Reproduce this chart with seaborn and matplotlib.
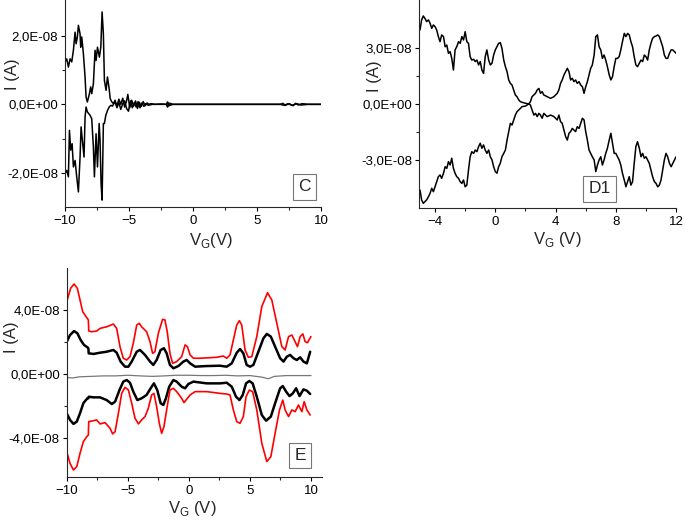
import matplotlib
matplotlib.use("Agg")
import matplotlib.pyplot as plt
import matplotlib.ticker as mticker
import seaborn as sns

# values in units of 1E-08 A, gate voltage in V

# panel C
vc_up = [-10.0, -9.87, -9.74, -9.61, -9.48, -9.35, -9.22, -9.14, -9.04, -8.96, -8.83, -8.78, -8.70,
         -8.57, -8.44, -8.36, -8.26, -8.10, -8.00, -7.92, -7.79, -7.66, -7.58, -7.47, -7.32, -7.21,
         -7.11, -7.01, -6.93, -6.80, -6.69, -6.56, -6.48, -6.35, -6.22, -6.1, -5.95, -5.8, -5.65,
         -5.5, -5.35, -5.2, -5.1, -4.95, -4.8, -4.65, -4.5, -4.35, -4.2, -4.05, -3.9, -3.75, -3.6,
         -3.45, -3.3, -3.0, -2.5, -2.1, -2.0, -1.9, -1.8, -1.6, -1.0, 0, 2, 4, 6, 6.8, 7.0, 7.2,
         7.5, 7.8, 8.0, 8.2, 8.5, 9, 10]
ic_up = [1.24, 1.33, 1.09, 1.33, 1.24, 1.58, 2.11, 1.77, 1.97, 2.31, 2.06, 1.67, 1.97,
         1.48, 0.80, 0.21, 0.07, 0.31, 0.51, 0.31, 0.60, 1.58, 1.28, 1.67, 1.38, 1.67,
         2.70, 2.06, 0.70, 0.41, 0.80, 0.46, 0.17, 0.07, 0.02, 0.12, -0.05, 0.15, 0.0,
         0.18, -0.08, 0.1, 0.29, -0.1, 0.12, -0.05, 0.1, -0.12, 0.06, -0.06, 0.08, -0.04, 0.04,
         0.0, 0.02, 0.0, 0.01, 0.0, 0.07, -0.05, 0.03, 0.0, 0.0, 0.0, 0.0, 0.0, 0.0, 0.0, 0.03, -0.03,
         0.02, -0.04, 0.03, -0.02, 0.02, 0.0, 0.0]
vc_dn = [-10.0, -9.87, -9.74, -9.66, -9.56, -9.45, -9.35, -9.22, -9.09, -8.96, -8.83, -8.75, -8.65,
         -8.52, -8.44, -8.36, -8.26, -8.05, -7.92, -7.79, -7.71, -7.58, -7.47, -7.34, -7.27, -7.19,
         -7.11, -7.01, -6.93, -6.82, -6.69, -6.56, -6.43, -6.3, -6.1, -5.95, -5.8, -5.65, -5.5,
         -5.35, -5.2, -5.05, -4.9, -4.75, -4.6, -4.45, -4.3, -4.15, -4.0, -3.85, -3.7, -3.5, -3.2,
         -2.5, -2.1, -2.0, -1.9, -1.8, -1.6, 0, 6.8, 7.1, 7.4, 7.7, 8.1, 8.4, 9, 10]
ic_dn = [-2.02, -1.93, -2.12, -0.76, -1.34, -1.15, -1.83, -1.64, -2.12, -2.56, -1.54, -0.66, -1.05,
         -1.54, -0.37, -0.08, -0.22, -0.32, -0.42, -1.25, -2.12, -0.86, -1.83, -0.56, -1.05, -2.32,
         -2.80, -0.56, -0.56, -0.32, -0.18, -0.08, -0.03, -0.05, 0.08, -0.1, 0.05, -0.15, 0.02,
         0.1, -0.12, -0.2, 0.1, -0.1, 0.05, -0.08, 0.08, -0.1, 0.04, -0.06, 0.02, -0.03, 0.0,
         0.0, 0.0, -0.08, 0.04, -0.03, 0.0, 0.0, 0.0, -0.03, 0.02, -0.03, 0.02, -0.02, 0.0, 0.0]

# panel D1
vd = [-5.00, -4.89, -4.78, -4.67, -4.56, -4.44, -4.33, -4.22, -4.11, -4.00, -3.89, -3.78, -3.67,
      -3.56, -3.44, -3.33, -3.22, -3.11, -3.00, -2.89, -2.78, -2.67, -2.56, -2.44, -2.33, -2.22,
      -2.11, -2.00, -1.89, -1.78, -1.67, -1.56, -1.44, -1.33, -1.22, -1.11, -1.00, -0.89, -0.78,
      -0.67, -0.56, -0.44, -0.33, -0.22, -0.11, 0.00, 0.11, 0.22, 0.33, 0.44, 0.56, 0.67, 0.78,
      0.89, 1.00, 1.11, 1.22, 1.33, 1.44, 1.56, 1.67, 1.78, 2.00, 2.22, 2.33, 2.44, 2.56, 2.67,
      2.78, 2.89, 3.00, 3.11, 3.22, 3.44, 3.67, 3.89, 4.11, 4.22, 4.33, 4.44, 4.56, 4.67, 4.78,
      4.89, 5.00, 5.11, 5.22, 5.33, 5.44, 5.56, 5.67, 5.78, 5.89, 6.00, 6.11, 6.22, 6.33, 6.44,
      6.56, 6.67, 6.78, 6.89, 7.00, 7.11, 7.22, 7.33, 7.44, 7.56, 7.67, 7.78, 7.89, 8.00, 8.11,
      8.22, 8.33, 8.44, 8.56, 8.67, 8.78, 8.89, 9.00, 9.11, 9.22, 9.33, 9.44, 9.56, 9.67, 9.78,
      9.89, 10.00, 10.11, 10.22, 10.33, 10.44, 10.56, 10.67, 10.78, 10.89, 11.00, 11.11, 11.22,
      11.33, 11.44, 11.56, 11.67, 11.78, 11.89, 12.00]
id_up = [3.94, 4.48, 4.69, 4.56, 4.39, 4.48, 4.30, 4.03, 4.21, 4.12, 3.94, 3.59, 3.32,
         3.68, 3.59, 3.05, 3.14, 2.70, 2.79, 2.43, 1.81, 2.88, 3.05, 3.32, 3.23, 3.59,
         3.41, 3.85, 3.32, 3.23, 2.52, 2.34, 2.38, 2.26, 2.34, 2.08, 2.26, 1.81, 1.63,
         2.52, 2.88, 2.34, 2.08, 2.17, 2.61, 2.88, 3.05, 3.23, 3.27, 2.97, 2.34, 1.99, 1.72,
         1.28, 1.10, 1.01, 0.75, 0.48, 0.39, 0.21, 0.12, 0.09, 0.04, 0.0, 0.12, 0.39, 0.48, 0.57,
         0.75, 0.83, 0.57, 0.66, 0.48, 0.39, 0.30, 0.39, 0.57, 0.75, 1.10, 1.28, 1.55, 1.72, 1.90,
         1.72, 1.28, 1.37, 1.19, 1.28, 1.10, 1.19, 1.01, 0.92, 0.57, 0.92, 1.19, 1.55, 1.90, 2.08,
         2.61, 3.59, 3.68, 3.05, 2.88, 2.43, 2.61, 2.34, 1.99, 1.55, 1.28, 1.46, 1.99, 2.43, 2.43,
         2.52, 2.88, 3.32, 3.76, 3.59, 3.76, 3.68, 3.32, 3.05, 2.52, 2.08, 1.99, 2.17, 2.34, 2.26,
         2.61, 2.52, 2.34, 2.88, 3.23, 3.50, 3.59, 3.62, 3.68, 3.59, 3.32, 3.05, 2.61,
         2.43, 2.43, 2.70, 2.88, 2.88, 2.79, 2.70]
id_dn = [-4.58, -5.11, -5.29, -5.20, -5.11, -4.94, -4.76, -4.49, -4.67, -4.41, -4.14, -3.87, -3.78,
         -3.96, -3.69, -3.34, -3.43, -3.07, -3.25, -2.89, -3.43, -3.69, -3.87, -3.96, -4.14, -4.23,
         -4.05, -4.41, -4.32, -3.52, -2.81, -2.54, -2.63, -2.45, -2.54, -2.27, -2.09, -2.36, -2.18,
         -2.45, -2.63, -2.45, -2.81, -2.98, -3.34, -3.60, -3.69, -3.34, -3.16, -2.81, -2.63, -2.45, -1.92,
         -1.47, -1.03, -1.12, -0.85, -0.59, -0.41, -0.32, -0.23, -0.14, -0.11, 0.0, -0.05, -0.32, -0.59, -0.50,
         -0.67, -0.50, -0.59, -0.76, -0.50, -0.67, -0.59, -0.67, -0.85, -0.59, -0.94, -1.03, -1.39, -1.74, -1.92,
         -1.56, -1.47, -1.30, -1.39, -1.47, -1.21, -1.30, -1.03, -0.76, -0.85, -1.47, -1.92, -2.45, -2.63, -2.81,
         -2.98, -3.60, -3.25, -2.98, -2.81, -3.25, -2.98, -2.63, -2.36, -1.92, -1.56, -2.09, -2.63, -2.63, -2.81,
         -2.98, -3.25, -3.69, -4.05, -4.41, -4.14, -3.87, -4.32, -4.14, -3.16, -2.27, -2.01, -2.36, -2.81, -2.63,
         -2.89, -2.81, -2.98, -3.16, -3.52, -3.87, -4.14, -4.23, -4.41, -4.32, -4.05, -3.52, -2.98,
         -2.63, -2.81, -3.16, -3.34, -3.16, -2.98, -2.81]

# panel E
ve_red_up = [-10.0, -9.68, -9.40, -9.13, -8.91, -8.69, -8.42, -8.23, -8.20, -7.96, -7.55, -7.27, -6.73,
             -6.18, -5.91, -5.64, -5.37, -5.09, -4.82, -4.55, -4.27, -4.06, -3.87, -3.46, -3.18, -2.97,
             -2.78, -2.50, -2.15, -1.96, -1.77, -1.55, -1.33, -1.00, -0.59, -0.31, -0.12, 0.10, 0.37,
             0.92, 2.28, 2.82, 3.10, 3.37, 3.64, 3.92, 4.13, 4.33, 4.60, 4.87, 5.15, 5.56, 5.97, 6.44,
             6.79, 7.20, 7.61, 7.88, 8.16, 8.43, 8.70, 8.89, 9.11, 9.33, 9.52, 9.71, 9.99]
ie_red_up = [4.55, 5.39, 5.66, 5.39, 4.65, 3.92, 3.61, 3.40, 2.71, 2.66, 2.70, 2.87, 2.97,
             3.14, 2.87, 1.72, 0.99, 0.88, 1.09, 1.93, 3.08, 3.19, 2.97, 2.66, 2.03, 1.30,
             1.40, 2.56, 3.44, 3.40, 2.66, 1.30, 0.67, 0.78, 1.09, 1.83, 1.72, 1.20, 0.99,
             0.99, 1.05, 1.13, 0.99, 1.20, 2.14, 3.08, 3.35, 3.08, 1.51, 1.05, 1.09, 2.35, 4.24, 5.11,
             4.65, 3.19, 1.72, 1.51, 2.35, 2.45, 2.03, 1.72, 2.35, 2.52, 2.03, 1.97, 2.35]
ve_red_dn = [-10.0, -9.73, -9.45, -9.18, -8.91, -8.64, -8.36, -8.23, -8.20, -7.82, -7.55, -7.27, -6.86,
             -6.45, -6.24, -6.04, -5.77, -5.50, -5.23, -4.95, -4.68, -4.41, -4.13, -3.87, -3.59, -3.32,
             -3.05, -2.86, -2.64, -2.42, -2.23, -2.04, -1.82, -1.55, -1.27, -1.00, -0.59, -0.40, -0.12,
             0.10, 0.51, 1.46, 2.55, 3.10, 3.37, 3.64, 3.92, 4.19, 4.46, 4.68, 4.95, 5.22, 5.56, 5.97,
             6.38, 6.71, 7.06, 7.42, 7.69, 7.88, 8.16, 8.43, 8.70, 8.97, 9.25, 9.44, 9.66, 9.93]
ie_red_dn = [-4.89, -5.62, -6.04, -5.83, -4.99, -4.26, -3.94, -3.84, -3.00, -2.94, -2.89, -3.14, -3.06,
             -3.42, -3.77, -3.63, -2.47, -1.22, -0.84, -1.01, -1.84, -2.78, -3.14, -2.89, -2.68, -2.16,
             -1.32, -1.22, -2.05, -3.10, -3.73, -3.31, -2.26, -1.01, -0.90, -1.11, -1.53, -1.80, -1.53,
             -1.32, -1.11, -1.11, -1.22, -1.26, -1.32, -2.26, -3.00, -3.10, -2.68, -1.43, -1.01, -1.11, -2.26, -4.36,
             -5.51, -5.20, -3.73, -2.26, -1.64, -2.26, -2.68, -2.26, -2.37, -1.95, -2.37, -1.74, -2.26, -2.58]
ve_blk_up = [-10.0, -9.73, -9.40, -9.13, -8.86, -8.59, -8.31, -8.23, -8.20, -7.82, -7.27, -6.73, -6.18,
             -5.91, -5.59, -5.23, -4.95, -4.68, -4.27, -4.00, -3.59, -3.18, -2.91, -2.64, -2.31, -2.04,
             -1.82, -1.55, -1.27, -0.86, -0.45, -0.18, 0.10, 0.51, 1.46, 2.55, 3.10, 3.51, 3.92, 4.19,
             4.46, 4.73, 5.01, 5.28, 5.69, 6.10, 6.38, 6.71, 7.06, 7.47, 7.75, 8.02, 8.29, 8.57, 8.84,
             9.11, 9.38, 9.66, 9.93]
ie_blk_up = [2.03, 2.45, 2.70, 2.56, 2.14, 1.83, 1.68, 1.62, 1.30, 1.26, 1.34, 1.40, 1.51,
             1.34, 0.78, 0.46, 0.46, 0.78, 1.40, 1.51, 1.20, 0.78, 0.57, 0.88, 1.51, 1.62,
             1.30, 0.57, 0.36, 0.50, 0.78, 0.88, 0.67, 0.46, 0.50, 0.52, 0.46, 0.67, 1.34, 1.57,
             1.30, 0.57, 0.46, 0.57, 1.40, 2.24, 2.52, 2.35, 1.72, 0.99, 0.78, 1.09, 1.20, 0.99, 0.88,
             1.05, 0.78, 0.67, 1.40]
ve_blk_dn = [-10.0, -9.73, -9.45, -9.18, -8.91, -8.64, -8.31, -8.23, -8.20, -7.82, -7.27, -6.73, -6.31,
             -6.04, -5.68, -5.37, -5.09, -4.82, -4.55, -4.22, -3.87, -3.46, -3.13, -2.86, -2.59, -2.31,
             -2.09, -1.88, -1.61, -1.27, -1.00, -0.59, -0.31, -0.04, 0.37, 1.46, 2.55, 3.10, 3.51, 3.86,
             4.14, 4.41, 4.68, 4.95, 5.22, 5.56, 5.97, 6.32, 6.71, 7.06, 7.47, 7.69, 7.96, 8.24, 8.51,
             8.78, 9.06, 9.38, 9.66, 9.93]
ie_blk_dn = [-2.47, -2.89, -3.14, -3.00, -2.47, -1.84, -1.53, -1.53, -1.43, -1.47, -1.47, -1.64, -1.89,
             -1.74, -1.01, -0.48, -0.38, -0.55, -1.11, -1.64, -1.53, -1.32, -0.90, -0.59, -1.01, -1.84,
             -1.95, -1.53, -0.80, -0.38, -0.48, -0.80, -0.90, -0.63, -0.48, -0.59, -0.59, -0.55, -0.80, -1.43,
             -1.64, -1.32, -0.59, -0.44, -0.59, -1.43, -2.58, -2.94, -2.68, -1.84, -0.90, -0.76, -1.11, -1.39, -1.22,
             -0.90, -1.39, -0.97, -1.05, -1.26]
ve_gray = [-10, -9.5, -9, -8, -7, -6, -5, -4, -3, -2, -1, 0, 1, 2, 3, 4, 5, 6, 6.5, 7, 8, 9, 10]
ie_gray = [-0.22, -0.25, -0.18, -0.15, -0.12, -0.12, -0.08, -0.12, -0.15, -0.12, -0.08, -0.08, -0.1,
           -0.1, -0.08, -0.12, -0.1, -0.2, -0.3, -0.15, -0.1, -0.1, -0.1]

SCALE = 1e-8

sns.set_style("ticks")
plt.rcParams['font.family'] = ['Liberation Sans', 'DejaVu Sans']
plt.rcParams['axes.linewidth'] = 0.8
plt.rcParams['xtick.major.size'] = 3
plt.rcParams['ytick.major.size'] = 3
plt.rcParams['xtick.minor.size'] = 2
plt.rcParams['ytick.minor.size'] = 2
plt.rcParams['xtick.major.pad'] = 2.5
plt.rcParams['ytick.major.pad'] = 2
plt.rcParams['xtick.direction'] = 'out'
plt.rcParams['ytick.direction'] = 'out'

fig = plt.figure(figsize=(6.85, 5.2), dpi=100)

sci = mticker.FuncFormatter(lambda v, p: f"{v:.1E}".replace('.', ','))


def style_axes(ax, xlim, ylim, xt, xminor, yt, yminor, label_x, label_y, xl_pos, yl_pos, tag, tag_pos):
    sns.despine(ax=ax)
    ax.set_xlim(*xlim)
    ax.set_ylim(*ylim)
    ax.set_xticks(xt)
    ax.set_xticks(xminor, minor=True)
    ax.set_yticks(yt)
    ax.set_yticks(yminor, minor=True)
    ax.yaxis.set_major_formatter(sci)
    ax.tick_params(labelsize=9.5, colors='black', width=0.8)
    ax.tick_params(which='minor', width=0.8)
    ax.set_xlabel(label_x, fontsize=12)
    ax.set_ylabel(label_y, fontsize=12)
    ax.xaxis.set_label_coords(*xl_pos)
    ax.yaxis.set_label_coords(*yl_pos)
    ax.xaxis.label.set_va('center')
    ax.yaxis.label.set_va('center')
    ax.text(tag_pos[0], tag_pos[1], tag, transform=ax.transAxes, fontsize=12.5,
            ha='center', va='center',
            bbox=dict(boxstyle='square,pad=0.3', fc='white', ec='#777777', lw=0.8))


# C
ax1 = fig.add_axes([0.095, 0.602, 0.374, 0.398])
sns.lineplot(x=vc_up, y=[v * SCALE for v in ic_up], ax=ax1, color='black', lw=1.1,
             sort=False, estimator=None)
sns.lineplot(x=vc_dn, y=[v * SCALE for v in ic_dn], ax=ax1, color='black', lw=1.1,
             sort=False, estimator=None)
style_axes(ax1, (-10, 10), (-3.0e-8, 3.05e-8), [-10, -5, 0, 5, 10], [-7.5, -2.5, 2.5, 7.5],
           [-2e-8, 0, 2e-8], [-1e-8, 1e-8], r'V$_{\mathregular{G}}$(V)', 'I (A)',
           (0.57, -0.16), (-0.205, 0.64), 'C', (0.934, 0.097))

# D1
ax2 = fig.add_axes([0.612, 0.6, 0.375, 0.4])
sns.lineplot(x=vd, y=[v * SCALE for v in id_up], ax=ax2, color='black', lw=1.1,
             sort=False, estimator=None)
sns.lineplot(x=vd, y=[v * SCALE for v in id_dn], ax=ax2, color='black', lw=1.1,
             sort=False, estimator=None)
style_axes(ax2, (-5.05, 12), (-5.54e-8, 5.54e-8), [-4, 0, 4, 8, 12], [-2, 2, 6, 10],
           [-3e-8, 0, 3e-8], [-1.5e-8, 1.5e-8], r'V$_{\mathregular{G}}$ (V)', 'I (A)',
           (0.536, -0.15), (-0.173, 0.635), 'D1', (0.703, 0.092))

# E
ax3 = fig.add_axes([0.0974, 0.0827, 0.3727, 0.402])
sns.lineplot(x=ve_red_up, y=[v * SCALE for v in ie_red_up], ax=ax3, color='#ff0000', lw=1.2,
             sort=False, estimator=None)
sns.lineplot(x=ve_blk_up, y=[v * SCALE for v in ie_blk_up], ax=ax3, color='black', lw=1.8,
             sort=False, estimator=None)
sns.lineplot(x=ve_gray, y=[v * SCALE for v in ie_gray], ax=ax3, color='#777777', lw=0.9,
             sort=False, estimator=None)
sns.lineplot(x=ve_blk_dn, y=[v * SCALE for v in ie_blk_dn], ax=ax3, color='black', lw=1.8,
             sort=False, estimator=None)
sns.lineplot(x=ve_red_dn, y=[v * SCALE for v in ie_red_dn], ax=ax3, color='#ff0000', lw=1.2,
             sort=False, estimator=None)
style_axes(ax3, (-10, 10.9), (-6.48e-8, 6.67e-8), [-10, -5, 0, 5, 10], [-7.5, -2.5, 2.5, 7.5],
           [-4e-8, 0, 4e-8], [-2e-8, 2e-8], r'V$_{\mathregular{G}}$ (V)', 'I (A)',
           (0.49, -0.15), (-0.218, 0.67), 'E', (0.914, 0.104))

fig.savefig("out.png", dpi=100)
